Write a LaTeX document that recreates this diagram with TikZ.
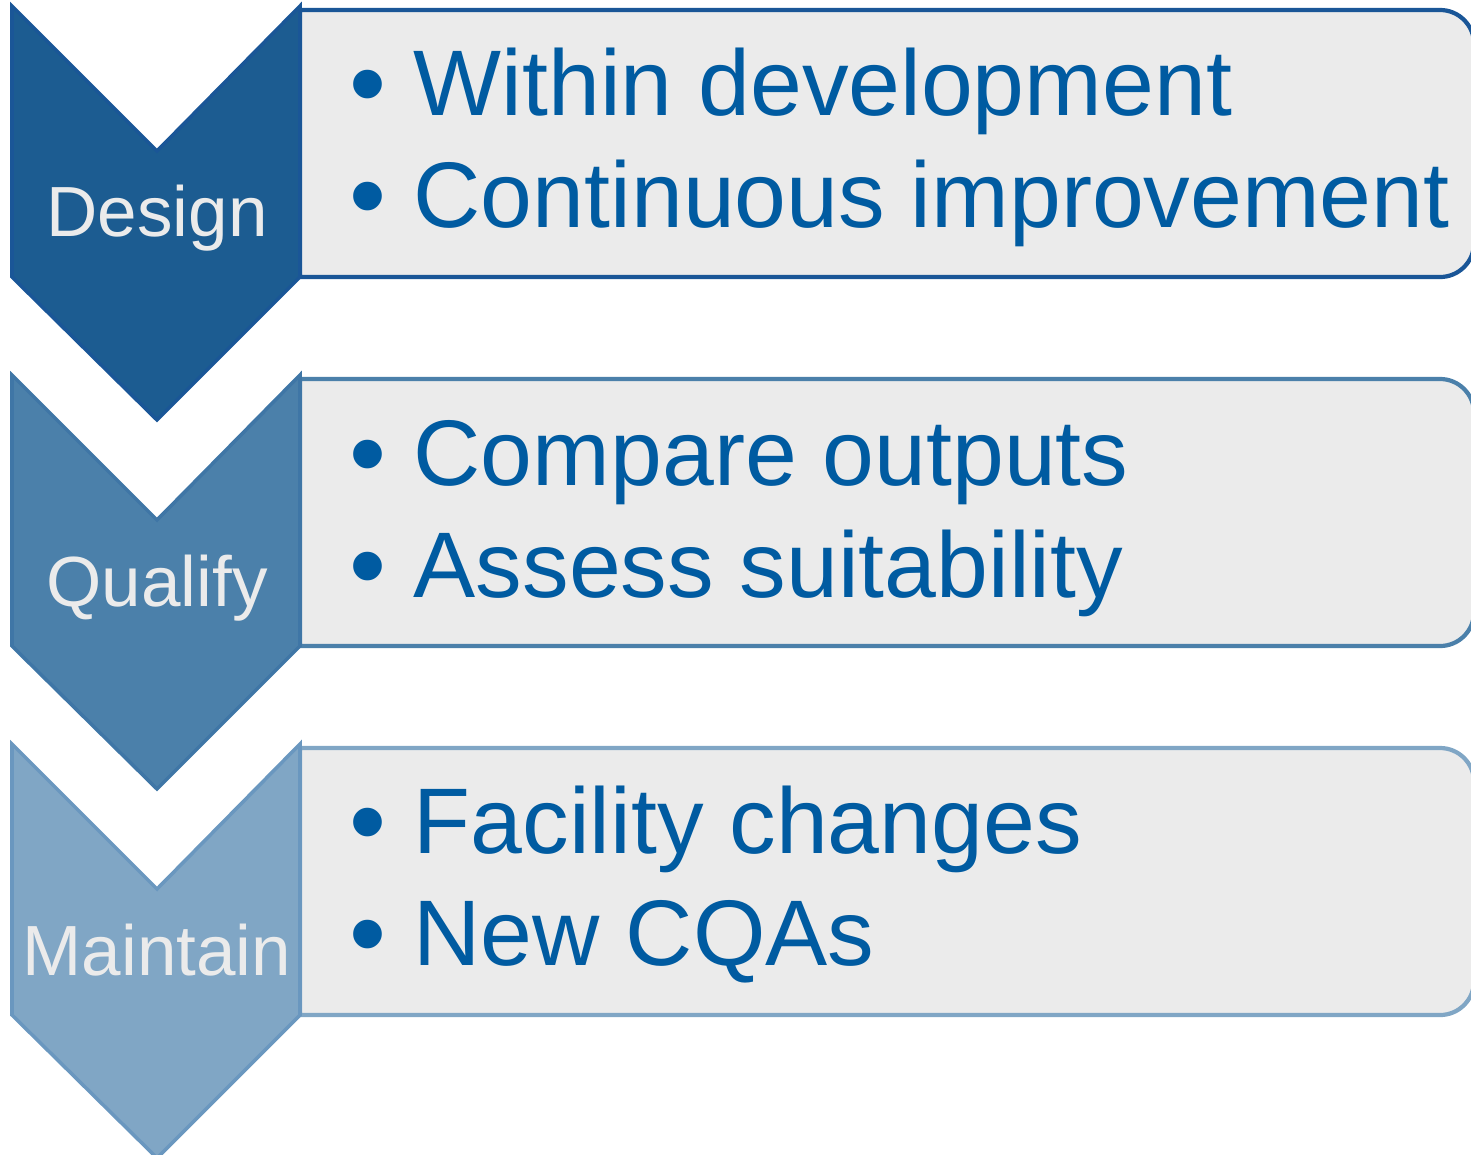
\documentclass[tikz,border=0pt]{standalone}
\usepackage{fontspec}
\setmainfont{Liberation Sans}
\usepackage{tikz}

\definecolor{designfill}{HTML}{1C5C91}
\definecolor{designline}{HTML}{1A5697}
\definecolor{qualifyfill}{HTML}{4B80AA}
\definecolor{qualifyline}{HTML}{3F76A6}
\definecolor{maintainfill}{HTML}{80A6C5}
\definecolor{maintainline}{HTML}{6A97BF}
\definecolor{panelgray}{HTML}{EBEBEB}
\definecolor{itemblue}{HTML}{005BA1}

\begin{document}
\begin{tikzpicture}[x=0.01cm,y=0.01cm,
  chevron/.style={line width=1pt, line join=miter},
  panel/.style={line width=1.2pt, fill=panelgray},
  stage/.style={anchor=base, inner sep=0pt, text=panelgray, font=\fontsize{20.2pt}{24pt}\selectfont},
  dot/.style={anchor=base, inner sep=0pt, text=itemblue, font=\fontsize{30pt}{36pt}\selectfont},
  item/.style={anchor=base west, inner sep=0pt, text=itemblue, font=\fontsize{26.5pt}{32pt}\selectfont}]
\useasboundingbox (0,0) rectangle (1471,1154);

% design
\draw [panel, draw=designline] (300,1144) -- (1440,1144) arc[start angle=90, end angle=0, radius=0.34cm]
  -- (1474,911) arc[start angle=0, end angle=-90, radius=0.34cm] -- (300,877) -- cycle;
\draw [chevron, fill=designfill, draw=designline] (12,1148) -- (157,1003) -- (300,1148) -- (300,877)
  -- (157,734) -- (12,877) -- cycle;
\node [stage] (a) at (157,917) {Design};
\node [dot] (a1) at (368,1034) {•};
\node [item] (b) at (413,1038) {Within development};
\node [dot] (a2) at (368,922) {•};
\node [item] (c) at (413,926) {Continuous improvement};

% qualify
\draw [panel, draw=qualifyfill] (300,775) -- (1440,775) arc[start angle=90, end angle=0, radius=0.34cm]
  -- (1474,542) arc[start angle=0, end angle=-90, radius=0.34cm] -- (300,508) -- cycle;
\draw [chevron, fill=qualifyfill, draw=qualifyline] (12,779) -- (157,634) -- (300,779) -- (300,508)
  -- (157,365) -- (12,508) -- cycle;
\node [stage] (d) at (157,548) {Qualify};
\node [dot] (d1) at (368,665) {•};
\node [item] (e) at (413,669) {Compare outputs};
\node [dot] (d2) at (368,553) {•};
\node [item] (f) at (413,557) {Assess suitability};

% maintain
\draw [panel, draw=maintainfill] (300,406) -- (1440,406) arc[start angle=90, end angle=0, radius=0.34cm]
  -- (1474,173) arc[start angle=0, end angle=-90, radius=0.34cm] -- (300,139) -- cycle;
\draw [chevron, fill=maintainfill, draw=maintainline] (12,410) -- (157,265) -- (300,410) -- (300,139)
  -- (157,-4) -- (12,139) -- cycle;
\node [stage] (g) at (157,179) {Maintain};
\node [dot] (g1) at (368,297) {•};
\node [item] (h) at (413,301) {Facility changes};
\node [dot] (g2) at (368,185) {•};
\node [item] (i) at (413,189) {New CQAs};
\end{tikzpicture}
\end{document}
